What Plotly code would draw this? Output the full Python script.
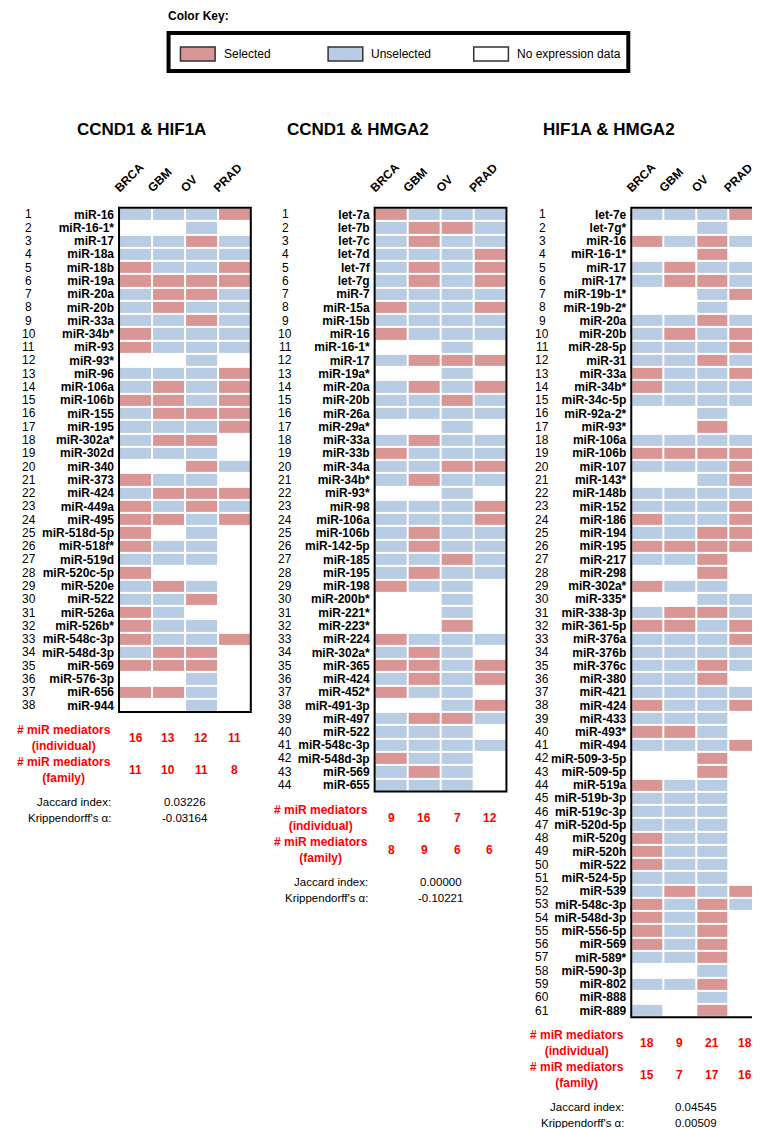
import plotly.graph_objects as go

W, H = 760, 1128
RED = "#DA9694"
BLUE = "#B8CCE4"
FONT = "Liberation Sans, Arial, sans-serif"

cancers = ["BRCA", "GBM", "OV", "PRAD"]

# ---- data (R = selected, B = unselected, W = no expression data) ----
p1_title = "CCND1 & HIF1A"
p1_mirs = ["miR-16", "miR-16-1*", "miR-17", "miR-18a", "miR-18b", "miR-19a", "miR-20a", "miR-20b",
           "miR-33a", "miR-34b*", "miR-93", "miR-93*", "miR-96", "miR-106a", "miR-106b", "miR-155",
           "miR-195", "miR-302a*", "miR-302d", "miR-340", "miR-373", "miR-424", "miR-449a", "miR-495",
           "miR-518d-5p", "miR-518f*", "miR-519d", "miR-520c-5p", "miR-520e", "miR-522", "miR-526a",
           "miR-526b*", "miR-548c-3p", "miR-548d-3p", "miR-569", "miR-576-3p", "miR-656", "miR-944"]
p1_status = ["BBBR", "WWBW", "BBRB", "BBBB", "RBBR", "RRRR", "BRRB", "BRBB", "BBRB", "RBBB",
             "RBBB", "WWBW", "BBBR", "BRBR", "RRBR", "BRRR", "BBBR", "BRRW", "BBBW", "WWRB",
             "RBBW", "BRRR", "RBRB", "RRBR", "RWBW", "RBBW", "BBBW", "RWWW", "BRBW", "BBRW",
             "RBWW", "RBBW", "RBBR", "BRRW", "RRRW", "WWBW", "RRBW", "WWBW"]
p1_individual = [16, 13, 12, 11]
p1_family = [11, 10, 11, 8]
p1_jaccard = "0.03226"
p1_kripp = "-0.03164"

p2_title = "CCND1 & HMGA2"
p2_mirs = ["let-7a", "let-7b", "let-7c", "let-7d", "let-7f", "let-7g", "miR-7", "miR-15a", "miR-15b",
           "miR-16", "miR-16-1*", "miR-17", "miR-19a*", "miR-20a", "miR-20b", "miR-26a", "miR-29a*",
           "miR-33a", "miR-33b", "miR-34a", "miR-34b*", "miR-93*", "miR-98", "miR-106a", "miR-106b",
           "miR-142-5p", "miR-185", "miR-195", "miR-198", "miR-200b*", "miR-221*", "miR-223*",
           "miR-224", "miR-302a*", "miR-365", "miR-424", "miR-452*", "miR-491-3p", "miR-497",
           "miR-522", "miR-548c-3p", "miR-548d-3p", "miR-569", "miR-655"]
p2_status = ["RBBB", "BRRB", "BRBB", "BBBR", "BRBR", "BRBR", "BBBB", "RBBR", "BBBB", "RBBB",
             "WWBW", "BRRR", "WWBW", "BRBR", "BBRB", "BBBB", "WWBW", "BRBB", "RBBB", "BBRR",
             "BRBB", "WWBW", "BBBR", "BBBR", "BRBB", "BRBB", "BBRB", "BRBB", "RBBW", "WWBW",
             "WWBW", "WWRW", "RBBB", "BRBW", "RRBR", "BRBR", "RBBW", "WWBR", "BRRB", "BBBW",
             "BBBB", "RBBW", "BRBW", "BBBW"]
p2_individual = [9, 16, 7, 12]
p2_family = [8, 9, 6, 6]
p2_jaccard = "0.00000"
p2_kripp = "-0.10221"

p3_title = "HIF1A & HMGA2"
p3_mirs = ["let-7e", "let-7g*", "miR-16", "miR-16-1*", "miR-17", "miR-17*", "miR-19b-1*", "miR-19b-2*",
           "miR-20a", "miR-20b", "miR-28-5p", "miR-31", "miR-33a", "miR-34b*", "miR-34c-5p",
           "miR-92a-2*", "miR-93*", "miR-106a", "miR-106b", "miR-107", "miR-143*", "miR-148b",
           "miR-152", "miR-186", "miR-194", "miR-195", "miR-217", "miR-298", "miR-302a*", "miR-335*",
           "miR-338-3p", "miR-361-5p", "miR-376a", "miR-376b", "miR-376c", "miR-380", "miR-421",
           "miR-424", "miR-433", "miR-493*", "miR-494", "miR-509-3-5p", "miR-509-5p", "miR-519a",
           "miR-519b-3p", "miR-519c-3p", "miR-520d-5p", "miR-520g", "miR-520h", "miR-522",
           "miR-524-5p", "miR-539", "miR-548c-3p", "miR-548d-3p", "miR-556-5p", "miR-569",
           "miR-589*", "miR-590-3p", "miR-802", "miR-888", "miR-889"]
p3_status = ["BBBR", "WWBW", "RBRB", "WWRW", "BRBB", "BRRB", "WWBR", "WWBW", "BBRB", "BRBR",
             "BBBR", "BBRB", "RBBR", "RBBB", "BBBB", "WWBW", "WWRW", "BBBB", "RRRR", "BBBR",
             "WWBR", "BBBB", "BBBR", "RBBR", "BBRR", "RRRR", "BBRW", "WWRW", "RBBW", "WWBB",
             "BRRB", "RRBR", "BBBR", "BBBB", "BBRB", "BBRW", "BBBB", "RBBR", "BBBW", "RRBW",
             "BBBR", "WWRW", "WWRW", "RBBW", "BBBW", "BBBW", "BBBW", "RBBW", "RBBW", "RBBW",
             "BBBW", "BRBR", "RBRB", "RBRW", "RBRW", "RBRW", "BBRW", "WWBW", "BBRW", "WWBW",
             "BWRW"]
p3_individual = [18, 9, 21, 18]
p3_family = [15, 7, 17, 16]
p3_jaccard = "0.04545"
p3_kripp = "0.00509"

legend_labels = ["Selected", "Unselected", "No expression data"]

# ---- layout helpers (pixel geometry) ----
def px(x):
    return x / W

def py(y):
    return 1 - y / H

ROW_H = 13.28
TOP = 200
code = {"W": 0, "B": 1, "R": 2}
cscale = [[0, "white"], [0.33, "white"], [0.33, BLUE], [0.67, BLUE], [0.67, RED], [1, RED]]

panels = [
    dict(title=p1_title, mirs=p1_mirs, status=p1_status, ind=p1_individual, fam=p1_family,
         jac=p1_jaccard, kri=p1_kripp, box=(105, 238), lab=99, num=14, tx=128),
    dict(title=p2_title, mirs=p2_mirs, status=p2_status, ind=p2_individual, fam=p2_family,
         jac=p2_jaccard, kri=p2_kripp, box=(363, 496), lab=358, num=273, tx=346),
    dict(title=p3_title, mirs=p3_mirs, status=p3_status, ind=p3_individual, fam=p3_family,
         jac=p3_jaccard, kri=p3_kripp, box=(622, 753), lab=617, num=532, tx=600),
]

fig = go.Figure()
annotations = []
shapes = []

def note(text, x, y, xref="paper", yref="paper", xanchor="center", size=12, color="black", align="center"):
    annotations.append(dict(text=text, x=x, y=y, xref=xref, yref=yref, xanchor=xanchor, yanchor="middle",
                            align=align, showarrow=False,
                            font=dict(size=size, color=color, family=FONT)))

for k, p in enumerate(panels, start=1):
    n = len(p["mirs"])
    bottom = TOP + n * ROW_H
    xa = "x" if k == 1 else f"x{k}"
    ya = "y" if k == 1 else f"y{k}"
    z = [[code[c] for c in row] for row in p["status"]]
    fig.add_trace(go.Heatmap(
        z=z, x=list(range(4)), y=list(range(n)), xaxis=xa, yaxis=ya,
        colorscale=cscale, zmin=0, zmax=2, showscale=False, xgap=2, ygap=2,
        hoverinfo="skip"))
    lk = "" if k == 1 else str(k)
    fig.update_layout(**{
        f"xaxis{lk}": dict(domain=[px(p["box"][0]), px(p["box"][1])], anchor=ya, side="top",
                           range=[-0.5, 3.5], tickmode="array", tickvals=list(range(4)),
                           ticktext=[f"<b>{c}</b>" for c in cancers], tickangle=-45,
                           tickfont=dict(size=12, color="black", family=FONT),
                           ticklabelshift=-20, ticklabelstandoff=10,
                           showgrid=False, zeroline=False, showline=False, ticks="",
                           fixedrange=True),
        f"yaxis{lk}": dict(domain=[py(bottom), py(TOP)], anchor=xa,
                           range=[n - 0.5, -0.5], tickmode="array", tickvals=list(range(n)),
                           ticktext=[f"<b>{m}</b>" for m in p["mirs"]],
                           tickfont=dict(size=12, color="black", family=FONT),
                           showgrid=False, zeroline=False, showline=False, ticks="",
                           ticklabelstandoff=4, fixedrange=True),
    })
    # panel border
    shapes.append(dict(type="rect", xref=f"{xa} domain", yref=f"{ya} domain", x0=0, x1=1, y0=0, y1=1,
                       line=dict(color="black", width=2), fillcolor="rgba(0,0,0,0)"))
    # title
    note(f"<b>{p['title']}</b>", px(p["tx"]), py(122), size=17)
    # row numbers
    for i in range(n):
        note(str(i + 1), px(p["num"]), i, yref=ya)
    # stats
    for label, vals, dy in [("individual", p["ind"], 26), ("family", p["fam"], 58)]:
        note(f"<b># miR mediators<br>({label})</b>", px(p["lab"]), py(bottom + dy), xanchor="right",
             color="red")
        for j, v in enumerate(vals):
            note(f"<b>{v}</b>", j, py(bottom + dy), xref=xa, color="red")
    for label, val, dy in [("Jaccard index:", p["jac"], 90), ("Krippendorff's α:", p["kri"], 106)]:
        note(label, px(p["lab"]), py(bottom + dy), xanchor="right", size=11.5)
        note(val, 0.5, py(bottom + dy), xref=f"{xa} domain", size=11.5)

# ---- color key ----
note("<b>Color Key:</b>", px(152), py(8), xanchor="left")
shapes.append(dict(type="rect", xref="paper", yref="paper", x0=px(155), x1=px(619), y0=py(25), y1=py(63),
                   line=dict(color="black", width=4), fillcolor="white"))
for (sx, tx), lab, col in zip([(167, 209), (316, 357), (463, 505)], legend_labels, [RED, BLUE, "white"]):
    shapes.append(dict(type="rect", xref="paper", yref="paper", x0=px(sx), x1=px(sx + 35), y0=py(39), y1=py(53),
                       line=dict(color="#333333", width=1.5), fillcolor=col))
    note(lab, px(tx), py(46), xanchor="left")

fig.update_layout(width=W, height=H, margin=dict(l=0, r=0, t=0, b=0), paper_bgcolor="white",
                  plot_bgcolor="white", showlegend=False, annotations=annotations, shapes=shapes,
                  font=dict(family=FONT))

fig.write_html("out.html")
